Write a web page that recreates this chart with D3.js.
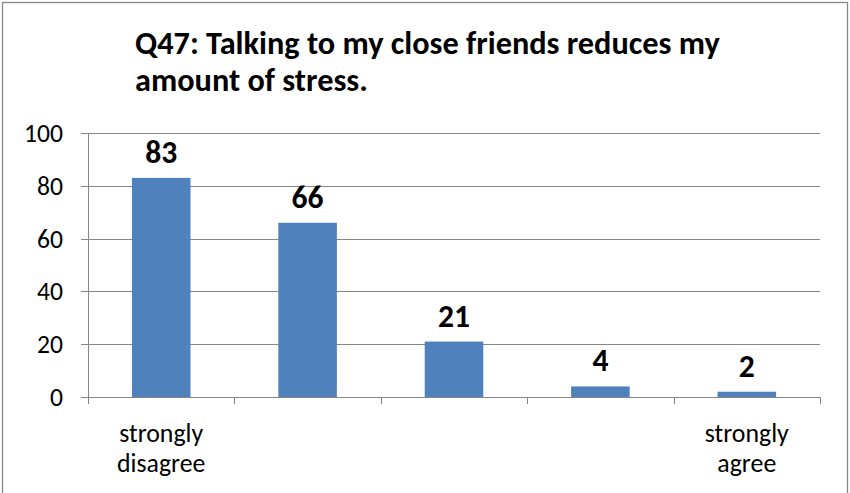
<!DOCTYPE html>
<html><head><meta charset="utf-8">
<script src="https://cdn.jsdelivr.net/npm/d3@7"></script>
<style>body{margin:0;background:#fff}svg{display:block}</style>
</head><body>
<svg id="c" width="850" height="493"></svg>
<script>
const categories = ["strongly disagree", "", "", "", "strongly agree"];
const values = [83, 66, 21, 4, 2];
const yTicks = [0, 20, 40, 60, 80, 100];
const titleLines = ["Q47: Talking to my close friends reduces my", "amount of stress."];

const svg = d3.select("#c");
const font = "Carlito, 'Open Sans', 'Liberation Sans', sans-serif";
svg.append("rect").attr("x", 2.5).attr("y", 2.5).attr("width", 845).attr("height", 495)
  .attr("fill", "#fff").attr("stroke", "#878787").attr("stroke-width", 1.3);

const x0 = 88, x1 = 820, yb = 397, yt = 133;
const x = d3.scaleBand().domain(d3.range(values.length)).range([x0, x1]).paddingInner(0.6).paddingOuter(0.3);
const xc = d3.scaleBand().domain(d3.range(values.length)).range([x0, x1]);
const y = d3.scaleLinear().domain([0, 100]).range([yb, yt]);

function fit(t, w) {
  const fs = +t.attr("font-size");
  const cur = t.node().getComputedTextLength();
  if (cur > 0) t.attr("font-size", fs * w / cur);
}

// gridlines
svg.append("g").selectAll("line").data(yTicks).join("line")
  .attr("x1", x0 - 7).attr("x2", x1).attr("y1", d => Math.round(y(d)) + 0.5).attr("y2", d => Math.round(y(d)) + 0.5)
  .attr("stroke", "#868686").attr("stroke-width", 1);
svg.append("line").attr("x1", x0 + 0.5).attr("x2", x0 + 0.5).attr("y1", yt).attr("y2", yb + 7)
  .attr("stroke", "#868686");
const xt = d3.range(values.length + 1).map(i => x0 + i * xc.bandwidth());
svg.append("g").selectAll("line").data(xt).join("line")
  .attr("x1", d => Math.round(d) + 0.5).attr("x2", d => Math.round(d) + 0.5)
  .attr("y1", yb).attr("y2", yb + 7).attr("stroke", "#868686");

// y labels
const yl = svg.append("g").selectAll("text").data(yTicks).join("text")
  .attr("x", 63).attr("y", d => y(d) + 9).attr("text-anchor", "end")
  .attr("font-family", font).attr("font-size", 24).attr("fill", "#000").text(d => d);
fit(d3.select(yl.nodes()[5]), 39);
const yfs = d3.select(yl.nodes()[5]).attr("font-size");
yl.attr("font-size", yfs);

// bars
svg.append("g").selectAll("rect").data(values).join("rect")
  .attr("x", (d, i) => x(i)).attr("width", x.bandwidth())
  .attr("y", d => y(d)).attr("height", d => yb - y(d))
  .attr("fill", "#4F81BD");

// value labels
const vl = svg.append("g").selectAll("text").data(values).join("text")
  .attr("x", (d, i) => x(i) + x.bandwidth() / 2).attr("y", d => y(d) - 15)
  .attr("text-anchor", "middle").attr("font-family", font).attr("font-weight", "bold")
  .attr("font-size", 31).attr("fill", "#000").text(d => d);
fit(d3.select(vl.nodes()[0]), 32);
vl.attr("font-size", d3.select(vl.nodes()[0]).attr("font-size"));

// category labels
let catFs = null;
categories.forEach((c, i) => {
  if (!c) return;
  const words = c.split(" ");
  const t = svg.append("text").attr("text-anchor", "middle").attr("font-family", font)
    .attr("font-size", 25).attr("fill", "#000");
  words.forEach((w, j) => t.append("tspan").attr("x", xc(i) + xc.bandwidth() / 2).attr("y", 442 + j * 30).text(w));
  if (catFs === null) {
    const first = t.select("tspan").node().getComputedTextLength();
    catFs = 25 * 84 / first;
  }
  t.attr("font-size", catFs);
});

// title
titleLines.forEach((l, j) => {
  const t = svg.append("text").attr("x", 135).attr("y", 54 + j * 37).attr("font-family", font)
    .attr("font-weight", "bold").attr("font-size", 28).attr("fill", "#000").text(l);
  if (j === 0) fit(t, 585);
});
const tfs = svg.selectAll("text").filter(function(){return this.textContent === titleLines[0];}).attr("font-size");
svg.selectAll("text").filter(function(){return this.textContent === titleLines[1];}).attr("font-size", tfs);
</script>
</body></html>
